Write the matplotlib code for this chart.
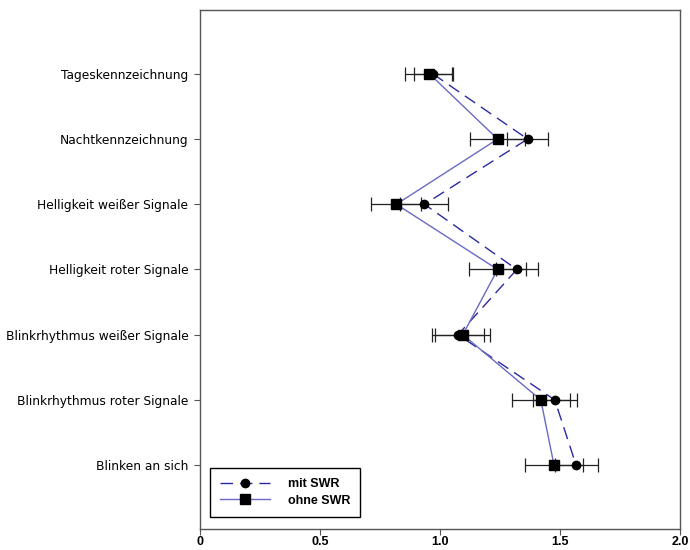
import matplotlib
matplotlib.use("Agg")
import matplotlib.pyplot as plt
import numpy as np

categories = ["Tageskennzeichnung", "Nachtkennzeichnung", "Helligkeit weißer Signale",
              "Helligkeit roter Signale", "Blinkrhythmus weißer Signale",
              "Blinkrhythmus roter Signale", "Blinken an sich"]
mit_swr = [0.97, 1.365, 0.935, 1.32, 1.075, 1.478, 1.567]
mit_swr_err = [0.08, 0.085, 0.10, 0.087, 0.11, 0.092, 0.09]
ohne_swr = [0.956, 1.24, 0.818, 1.24, 1.095, 1.42, 1.475]
ohne_swr_err = [0.10, 0.115, 0.104, 0.12, 0.115, 0.122, 0.12]
xticks = [0, 0.5, 1.0, 1.5, 2.0]
xticklabels = ["0", "0.5", "1.0", "1.5", "2.0"]

plt.rcParams['font.family'] = ['DejaVu Sans']
bold_font = ['Liberation Sans', 'DejaVu Sans']

fig = plt.figure(figsize=(6.9, 5.5), dpi=100)
ax = fig.add_axes([0.29, 0.0382, 0.6955, 0.9437])

ypos = np.arange(len(categories), 0, -1)

ax.errorbar(mit_swr, ypos, xerr=mit_swr_err, fmt='none', ecolor='#222222',
            elinewidth=0.9, capsize=5, capthick=0.9, zorder=2)
ax.errorbar(ohne_swr, ypos, xerr=ohne_swr_err, fmt='none', ecolor='#222222',
            elinewidth=0.9, capsize=5, capthick=0.9, zorder=2)

ax.plot(mit_swr, ypos, linestyle=(0, (9, 5)), color='#2a2aa0', lw=1.0,
        marker='o', markersize=6, markerfacecolor='black', markeredgecolor='black',
        label='mit SWR', zorder=3)
ax.plot(ohne_swr, ypos, linestyle='-', color='#6a6ac4', lw=1.0,
        marker='s', markersize=7, markerfacecolor='black', markeredgecolor='black',
        label='ohne SWR', zorder=3)

ax.set_xlim(0, 2.0)
ax.set_ylim(0.02, 7.98)
ax.set_xticks(xticks)
ax.set_xticklabels(xticklabels, fontweight='bold', fontsize=9, family=bold_font)
ax.set_yticks(ypos)
ax.set_yticklabels(categories, fontsize=8.8)
ax.tick_params(direction='out', length=4.5, color='#555555')
ax.tick_params(axis='x', pad=0.5)
ax.tick_params(axis='y', pad=4)
for s in ax.spines.values():
    s.set_color('#555555')
    s.set_linewidth(1.0)

leg = ax.legend(loc='lower left', bbox_to_anchor=(0.008, 0.012), fancybox=False,
                edgecolor='black', framealpha=1,
                prop={'weight': 'bold', 'size': 9, 'family': bold_font},
                handlelength=4.0, borderpad=0.8, labelspacing=0.35, handletextpad=1.4)
leg.get_frame().set_linewidth(1.0)

fig.savefig("out.png", dpi=100)
